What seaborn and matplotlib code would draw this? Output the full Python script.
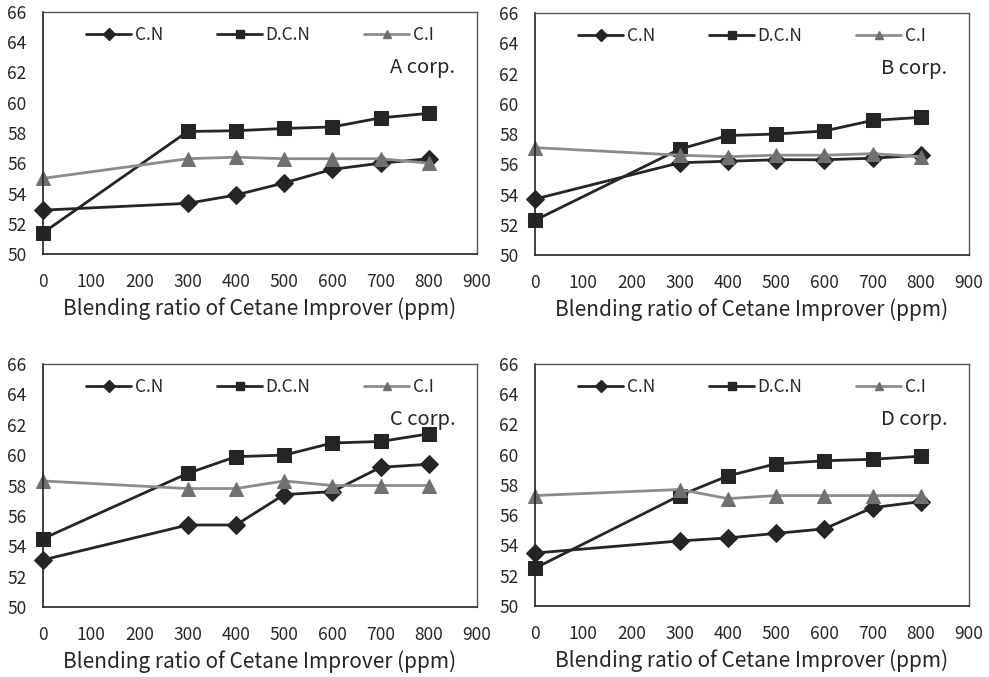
import pandas as pd
import matplotlib
matplotlib.use("Agg")
import matplotlib.pyplot as plt
from matplotlib.lines import Line2D
import seaborn as sns

# Blending ratio of cetane improver (ppm)
ppm = [0, 300, 400, 500, 600, 700, 800]
series_names = ["C.N", "D.C.N", "C.I"]
corps = ["A corp.", "B corp.", "C corp.", "D corp."]

# values
a_cn = [52.9, 53.35, 53.9, 54.7, 55.6, 56.0, 56.3]
a_dcn = [51.4, 58.1, 58.15, 58.3, 58.4, 59.0, 59.3]
a_ci = [55.0, 56.3, 56.4, 56.3, 56.3, 56.3, 56.0]

b_cn = [53.7, 56.1, 56.2, 56.3, 56.3, 56.4, 56.6]
b_dcn = [52.3, 57.0, 57.9, 58.0, 58.2, 58.9, 59.1]
b_ci = [57.1, 56.6, 56.5, 56.6, 56.6, 56.7, 56.5]

c_cn = [53.1, 55.4, 55.4, 57.4, 57.6, 59.2, 59.4]
c_dcn = [54.5, 58.8, 59.9, 60.0, 60.8, 60.9, 61.4]
c_ci = [58.3, 57.8, 57.8, 58.3, 58.0, 58.0, 58.0]

d_cn = [53.5, 54.3, 54.5, 54.8, 55.1, 56.5, 56.9]
d_dcn = [52.5, 57.3, 58.6, 59.4, 59.6, 59.7, 59.9]
d_ci = [57.3, 57.7, 57.1, 57.3, 57.3, 57.3, 57.3]

panel_data = [
    (a_cn, a_dcn, a_ci),
    (b_cn, b_dcn, b_ci),
    (c_cn, c_dcn, c_ci),
    (d_cn, d_dcn, d_ci),
]

line_colors = {"C.N": "#252525", "D.C.N": "#252525", "C.I": "#8c8c8c"}
marker_colors = {"C.N": "#252525", "D.C.N": "#252525", "C.I": "#707070"}
markers = {"C.N": "D", "D.C.N": "s", "C.I": "^"}
msizes = {"C.N": 9, "D.C.N": 10, "C.I": 10}

sns.set_style("white")
plt.rcParams["font.family"] = ["Noto Sans CJK KR", "DejaVu Sans"]

fig = plt.figure(figsize=(9.89, 6.77), dpi=100)
positions = [
    [0.0435, 0.6248, 0.4388, 0.3575],
    [0.5410, 0.6233, 0.4388, 0.3575],
    [0.0435, 0.1034, 0.4388, 0.3589],
    [0.5410, 0.1049, 0.4388, 0.3575],
]

for pos, corp, vals in zip(positions, corps, panel_data):
    ax = fig.add_axes(pos)
    df = pd.DataFrame({
        "ppm": ppm * 3,
        "value": vals[0] + vals[1] + vals[2],
        "series": [s for s in series_names for _ in ppm],
    })
    for name in series_names:
        sub = df[df["series"] == name]
        sns.lineplot(data=sub, x="ppm", y="value", ax=ax, color=line_colors[name],
                     lw=2, marker=markers[name], markersize=msizes[name],
                     markerfacecolor=marker_colors[name],
                     markeredgecolor=marker_colors[name], clip_on=False)

    ax.set_xlim(0, 900)
    ax.set_ylim(50, 66)
    ax.set_xticks(range(0, 1000, 100))
    ax.set_yticks(range(50, 67, 2))
    ax.tick_params(axis="x", direction="in", length=4, color="#c8c8c8",
                   labelsize=12.5, pad=14)
    ax.tick_params(axis="y", length=0, labelsize=12.5, pad=12)
    ax.set_xlabel("Blending ratio of Cetane Improver (ppm)", fontsize=15, labelpad=4)
    ax.set_ylabel("")
    for side in ["left", "bottom"]:
        ax.spines[side].set_color("#222222")
        ax.spines[side].set_linewidth(1.2)
    for side in ["top", "right"]:
        ax.spines[side].set_color("#555555")
        ax.spines[side].set_linewidth(1.0)

    handles = [Line2D([0], [0], color=line_colors[n], lw=2, marker=markers[n],
                      markersize=6, markerfacecolor=marker_colors[n],
                      markeredgecolor=marker_colors[n]) for n in series_names]
    ax.legend(handles, series_names, loc="upper center", bbox_to_anchor=(0.5, 1.0),
              ncol=3, frameon=False, fontsize=12.5, handlelength=2.6,
              handletextpad=0.2, columnspacing=3.1, borderaxespad=0.4)
    ax.text(0.95, 0.77, corp, transform=ax.transAxes, ha="right", va="center",
            fontsize=14.5)

fig.savefig("out.png", dpi=100)
